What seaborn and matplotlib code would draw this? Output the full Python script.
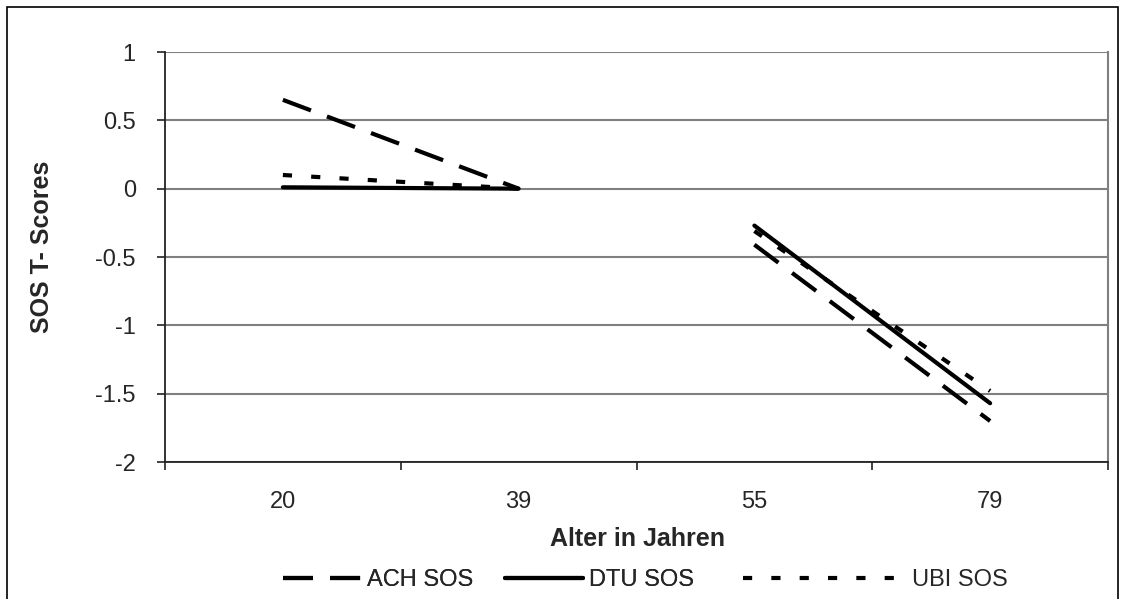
import matplotlib
matplotlib.use("Agg")
import matplotlib.pyplot as plt
import seaborn as sns
import pandas as pd
from matplotlib.lines import Line2D
from matplotlib.patches import Rectangle
from matplotlib.ticker import FixedLocator


# Data
alter = ["20", "39", "55", "79"]
segment = [1, 1, 2, 2]
ach_sos = [0.65, 0.0, -0.41, -1.70]
dtu_sos = [0.01, 0.0, -0.27, -1.57]
ubi_sos = [0.10, 0.0, -0.31, -1.48]
series_names = ["ACH SOS", "DTU SOS", "UBI SOS"]
y_ticks = [-2, -1.5, -1, -0.5, 0, 0.5, 1]
y_tick_labels = ["-2", "-1.5", "-1", "-0.5", "0", "0.5", "1"]


rows = []
for name, values in zip(series_names, [ach_sos, dtu_sos, ubi_sos]):
    for a, s, v in zip(alter, segment, values):
        rows.append({"Alter": a, "Segment": s, "Serie": name, "Wert": v})
df = pd.DataFrame(rows)


sns.set_style("white")
plt.rcParams["font.family"] = ["Liberation Sans", "DejaVu Sans"]

fig = plt.figure(figsize=(11.25, 5.99), dpi=100)
ax = fig.add_axes([165 / 1125, 1 - 462 / 599, (1108 - 165) / 1125, (462 - 52) / 599])

dash_styles = {
    "ACH SOS": (7.2, 4.1),
    "DTU SOS": "",
    "UBI SOS": (2.2, 4.6),
}

sns.lineplot(
    data=df,
    x="Alter",
    y="Wert",
    style="Serie",
    units="Segment",
    estimator=None,
    dashes=dash_styles,
    color="black",
    linewidth=3,
    legend=False,
    ax=ax
)

# Axis ranges and ticks
ax.set_xlim(-0.5, 3.5)
ax.set_ylim(-2, 1)
ax.set_yticks(y_ticks)
ax.set_yticklabels(y_tick_labels)
ax.xaxis.set_minor_locator(FixedLocator([-0.5, 0.5, 1.5, 2.5, 3.5]))

ax.tick_params(axis="x", which="major", length=0, pad=21, labelsize=17)
ax.tick_params(axis="x", which="minor", length=6, width=1.2,
               direction="out", color="#222222", bottom=True)
ax.tick_params(axis="y", which="major", length=6, width=1.2,
               direction="out", color="#222222", pad=15, labelsize=17, left=True)

ax.grid(axis="y", color="#808080", linewidth=1.5)
ax.set_axisbelow(True)

for side in ["left", "bottom"]:
    ax.spines[side].set_color("#222222")
    ax.spines[side].set_linewidth(1.3)
ax.spines["top"].set_visible(False)
ax.spines["right"].set_color("#808080")
ax.spines["right"].set_linewidth(1.5)

ax.set_xlabel("Alter in Jahren", fontsize=18, fontweight="bold")
ax.set_ylabel("SOS T- Scores", fontsize=18, fontweight="bold")
ax.xaxis.set_label_coords((638 - 165) / (1108 - 165), -(527 - 462) / 410)
ax.yaxis.set_label_coords(-(165 - 54) / (1108 - 165), (462 - 247) / 410)

# Legend below the chart
h_ach = Line2D([], [], color="black", linewidth=3, linestyle=(0, dash_styles["ACH SOS"]))
h_dtu = Line2D([], [], color="black", linewidth=3, linestyle="-")
h_ubi = Line2D([], [], color="black", linewidth=3, linestyle=(0, dash_styles["UBI SOS"]))

leg1 = fig.legend(
    [h_ach, h_dtu], ["ACH SOS", "DTU SOS"],
    loc="center left",
    bbox_to_anchor=(283 / 1125, 1 - 580 / 599),
    ncol=2,
    frameon=False,
    fontsize=17,
    handlelength=3.3,
    handletextpad=0.25,
    columnspacing=1.35,
    borderpad=0,
    borderaxespad=0
)
fig.legend(
    [h_ubi], ["UBI SOS"],
    loc="center left",
    bbox_to_anchor=(743 / 1125, 1 - 580 / 599),
    frameon=False,
    fontsize=17,
    handlelength=7.0,
    handletextpad=0.15,
    borderpad=0,
    borderaxespad=0
)
fig.add_artist(leg1)

# Outer chart border
fig.patches.append(Rectangle(
    (7 / 1125, -0.05), (1118 - 7) / 1125, 1.05 - 7 / 599,
    transform=fig.transFigure, fill=False, edgecolor="black", linewidth=1.2
))

fig.savefig("out.png", dpi=100)
plt.close(fig)
